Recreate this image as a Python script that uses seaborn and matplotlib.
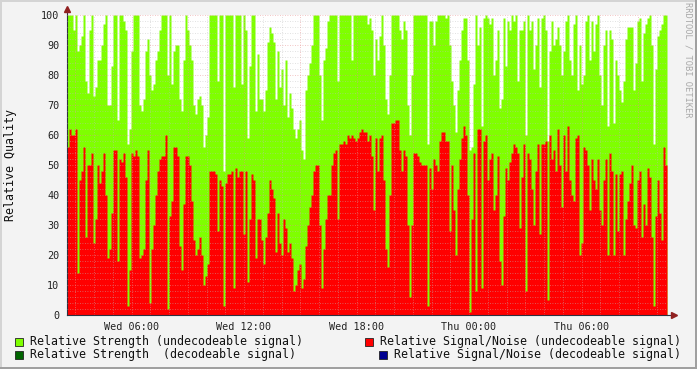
import numpy as np
import pandas as pd
import matplotlib
matplotlib.use("Agg")
import matplotlib.pyplot as plt
import seaborn as sns
from matplotlib.ticker import MultipleLocator, FuncFormatter
from matplotlib.patches import Rectangle
from matplotlib.lines import Line2D

# ---------------- data ----------------
start_hour = 2.56          # hours after Wed 00:00 (first sample)
step_minutes = 6.4         # sample spacing
days = ["Wed", "Thu"]

strength = [
    100, 100, 100, 95, 100, 88, 90, 93, 100, 78, 74, 95, 100, 73, 76, 85, 85, 90, 97, 100,
    70, 70, 83, 100, 100, 65, 100, 100, 98, 95, 57, 62, 88, 100, 100, 100, 70, 68, 72, 88,
    92, 80, 75, 77, 85, 88, 95, 100, 100, 100, 80, 100, 77, 88, 90, 90, 72, 68, 85, 100,
    95, 90, 85, 70, 67, 72, 73, 70, 56, 60, 66, 100, 100, 100, 100, 78, 100, 100, 48, 100,
    100, 100, 100, 76, 100, 100, 100, 77, 100, 95, 59, 83, 100, 100, 68, 87, 72, 72, 68, 75,
    91, 96, 94, 91, 72, 88, 76, 82, 70, 85, 66, 74, 69, 62, 59, 62, 65, 55, 52, 75,
    80, 84, 90, 100, 100, 100, 80, 65, 85, 89, 98, 100, 100, 100, 100, 78, 100, 100, 100, 100,
    100, 100, 85, 100, 100, 100, 100, 100, 100, 100, 97, 99, 95, 80, 92, 85, 93, 100, 90, 72,
    67, 80, 100, 100, 100, 100, 95, 92, 98, 95, 70, 60, 80, 100, 100, 100, 100, 100, 100, 100,
    57, 98, 98, 90, 98, 100, 100, 100, 100, 99, 100, 90, 78, 70, 61, 75, 85, 95, 99, 99,
    85, 55, 56, 77, 100, 90, 96, 63, 99, 100, 99, 97, 99, 80, 85, 95, 69, 72, 99, 83,
    98, 95, 100, 98, 100, 78, 95, 95, 98, 60, 100, 95, 98, 82, 90, 99, 76, 99, 100, 95,
    58, 88, 98, 90, 92, 96, 90, 80, 88, 98, 100, 85, 80, 97, 100, 75, 90, 77, 80, 98,
    100, 85, 98, 88, 97, 100, 80, 70, 90, 95, 63, 95, 92, 64, 85, 80, 75, 71, 78, 92,
    96, 96, 96, 75, 84, 98, 99, 78, 94, 97, 99, 100, 90, 57, 82, 93, 95, 97, 100, 100,
]

signal_noise = [
    56, 62, 60, 60, 62, 14, 45, 48, 56, 26, 50, 50, 54, 24, 32, 50, 44, 48, 54, 40,
    19, 22, 34, 55, 55, 18, 52, 51, 54, 46, 3, 15, 54, 53, 55, 53, 19, 20, 22, 45,
    55, 4, 22, 30, 40, 48, 52, 53, 53, 60, 2, 33, 38, 56, 56, 53, 23, 15, 37, 53,
    53, 50, 38, 25, 20, 22, 26, 20, 10, 13, 17, 48, 48, 48, 47, 28, 45, 43, 3, 44,
    47, 47, 48, 9, 49, 46, 48, 48, 27, 48, 11, 32, 47, 45, 19, 32, 32, 25, 17, 26,
    34, 45, 42, 39, 21, 34, 24, 20, 32, 29, 21, 24, 19, 8, 10, 15, 17, 9, 12, 23,
    30, 36, 40, 48, 50, 50, 30, 9, 22, 32, 40, 40, 50, 54, 55, 32, 57, 57, 58, 57,
    60, 59, 60, 59, 58, 59, 61, 62, 61, 61, 58, 60, 53, 35, 59, 48, 59, 60, 45, 22,
    16, 40, 64, 64, 65, 65, 55, 48, 55, 53, 30, 6, 30, 54, 54, 53, 51, 50, 50, 50,
    3, 49, 42, 52, 50, 48, 58, 61, 61, 58, 58, 28, 50, 35, 20, 42, 52, 59, 63, 60,
    40, 1, 32, 54, 8, 62, 62, 9, 58, 60, 45, 52, 54, 35, 40, 53, 18, 10, 33, 49,
    45, 51, 54, 57, 56, 54, 29, 46, 57, 8, 54, 52, 42, 30, 48, 57, 27, 57, 57, 58,
    5, 60, 52, 55, 48, 62, 50, 36, 60, 48, 63, 45, 40, 38, 59, 60, 20, 24, 56, 55,
    50, 35, 52, 45, 42, 52, 35, 30, 45, 52, 20, 54, 48, 20, 47, 28, 47, 48, 20, 32,
    38, 44, 50, 30, 29, 45, 48, 26, 37, 30, 49, 46, 26, 3, 33, 45, 34, 25, 56, 50,
]

legend_labels = [
    "Relative Strength (undecodeable signal)",
    "Relative Strength  (decodeable signal)",
    "Relative Signal/Noise (undecodeable signal)",
    "Relative Signal/Noise (decodeable signal)",
]
legend_colors = ["#7FFF00", "#006400", "#FF0000", "#000090"]
y_label = "Relative Quality"
watermark = "RRDTOOL / TOBI OETIKER"

# ---------------- figure ----------------
n = len(strength)
step_h = step_minutes / 60.0
edges = [start_hour + step_h * i for i in range(n + 1)]
centers = [e + step_h / 2 for e in edges[:-1]]
df = pd.DataFrame({"t": centers, "strength": strength, "snr": signal_noise})

sns.set_style("white")
plt.rcParams["font.family"] = ["DejaVu Sans Mono"]

W, H = 697, 369
fig = plt.figure(figsize=(W / 100, H / 100), dpi=100, facecolor="#F3F3F3")
ax = fig.add_axes([67 / W, (H - 315) / H, 600 / W, 300 / H])
ax.set_facecolor("white")

sns.histplot(data=df, x="t", weights="strength", bins=edges, element="step",
             fill=True, color="#7FFF00", alpha=1, linewidth=0, ax=ax)
sns.histplot(data=df, x="t", weights="snr", bins=edges, element="step",
             fill=True, color="#FF0000", alpha=1, linewidth=0, ax=ax)

ax.set_xlim(edges[0], edges[-1])
ax.set_ylim(0, 100)
ax.set_xlabel("")
ax.set_ylabel("")

# grid
ax.xaxis.set_major_locator(MultipleLocator(3))
ax.xaxis.set_minor_locator(MultipleLocator(1))
ax.yaxis.set_major_locator(MultipleLocator(10))
ax.yaxis.set_minor_locator(MultipleLocator(2))
ax.set_axisbelow(False)
ax.grid(which="minor", color="#BDBDBD", linestyle=(0, (1, 2)), linewidth=0.6, alpha=0.6)
ax.grid(which="major", color="#E89090", linestyle=(0, (1, 2)), linewidth=0.6, alpha=0.7)


def fmt_time(h, pos):
    hi = int(round(h))
    if hi % 6 != 0:
        return ""
    return f"{days[hi // 24]} {hi % 24:02d}:00"


ax.xaxis.set_major_formatter(FuncFormatter(fmt_time))
ax.tick_params(axis="x", which="major", direction="inout", length=4, width=0.6,
               color="#D07070", labelsize=7.3, pad=3, labelcolor="#222222")
ax.tick_params(axis="x", which="minor", length=0)
ax.tick_params(axis="y", which="major", direction="inout", length=5, width=0.6,
               color="#555555", labelsize=7.3, pad=3, labelcolor="#222222")
ax.tick_params(axis="y", which="minor", direction="in", length=2, width=0.5,
               color="#888888")

for s in ["top", "right"]:
    ax.spines[s].set_visible(False)
for s in ["left", "bottom"]:
    ax.spines[s].set_color("#303040")
    ax.spines[s].set_linewidth(0.8)

# axis arrows
ax.add_line(Line2D([0, 0], [1, 1.025], transform=ax.transAxes, color="#303040",
                   lw=0.8, clip_on=False))
ax.add_line(Line2D([1, 1.01], [0, 0], transform=ax.transAxes, color="#303040",
                   lw=0.8, clip_on=False))
ax.plot([0], [1.02], marker="^", markersize=5, color="#902020", transform=ax.transAxes,
        clip_on=False)
ax.plot([1.011], [0], marker=">", markersize=5, color="#902020", transform=ax.transAxes,
        clip_on=False)

# y label and watermark
fig.text(11 / W, 1 - 165 / H, y_label, rotation=90, ha="center", va="center",
         fontsize=8.4, color="#111111")
fig.text(688 / W, 1 - 60 / H, watermark, rotation=270, ha="center", va="center",
         fontsize=6.3, color="#A8A8A8")

# legend
leg_pos = [(15, 30, 341.5), (15, 30, 354.5), (365, 380, 341.5), (379, 394, 354.5)]
for (sx, tx, cy), lab, col in zip(leg_pos, legend_labels, legend_colors):
    fig.add_artist(Rectangle((sx / W, 1 - (cy + 4) / H), 8 / W, 8 / H,
                             transform=fig.transFigure, facecolor=col,
                             edgecolor="#222222", linewidth=0.6))
    fig.text(tx / W, 1 - cy / H, lab, ha="left", va="center", fontsize=8.4,
             color="#111111")

# 3D-ish frame
fig.add_artist(Rectangle((0, 1 - 2 / H), 1, 2 / H, transform=fig.transFigure,
                         facecolor="#D4D4D4", edgecolor="none"))
fig.add_artist(Rectangle((0, 0), 2 / W, 1, transform=fig.transFigure,
                         facecolor="#D4D4D4", edgecolor="none"))
fig.add_artist(Rectangle((0, 0), 1, 2 / H, transform=fig.transFigure,
                         facecolor="#A0A0A0", edgecolor="none"))
fig.add_artist(Rectangle((1 - 2 / W, 0), 2 / W, 1, transform=fig.transFigure,
                         facecolor="#A0A0A0", edgecolor="none"))

fig.savefig("out.png", dpi=100, facecolor=fig.get_facecolor())
